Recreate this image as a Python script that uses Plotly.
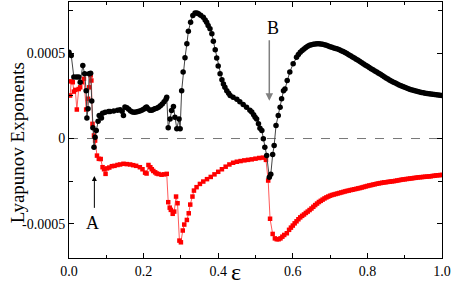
import plotly.graph_objects as go

# ---- data ----
# maximal exponent (black circles): irregular part up to 0.605, then dense smooth part
black_eps_left = [0.000, 0.006, 0.013, 0.020, 0.026, 0.030, 0.037, 0.042, 0.046, 0.048,
                  0.051, 0.054, 0.058, 0.061, 0.064, 0.067, 0.070, 0.073, 0.078, 0.081,
                  0.087, 0.090, 0.097, 0.106, 0.110, 0.120, 0.130, 0.137, 0.142, 0.146,
                  0.150, 0.155, 0.160, 0.165, 0.170, 0.175, 0.180, 0.185, 0.190, 0.195,
                  0.200, 0.205, 0.208, 0.212, 0.217, 0.222, 0.226, 0.230, 0.235, 0.240,
                  0.245, 0.250, 0.255, 0.260, 0.262, 0.266, 0.271, 0.275, 0.280, 0.284,
                  0.289, 0.295, 0.298, 0.302, 0.306, 0.311, 0.316, 0.320, 0.326, 0.332,
                  0.338, 0.343, 0.347, 0.353, 0.360, 0.365, 0.369, 0.373, 0.378, 0.383,
                  0.387, 0.392, 0.396, 0.400, 0.405, 0.410, 0.414, 0.418, 0.423, 0.428,
                  0.432, 0.440, 0.450, 0.458, 0.467, 0.476, 0.485, 0.490, 0.495, 0.499,
                  0.503, 0.508, 0.512, 0.517, 0.521, 0.525, 0.530, 0.537, 0.541, 0.546,
                  0.550, 0.555, 0.561, 0.566, 0.570, 0.575, 0.579, 0.585, 0.592, 0.601]
black_val_left = [5.06e-4, 4.87e-4, 3.60e-4, 3.60e-4, 3.60e-4, 3.30e-4, 4.28e-4, 3.79e-4, 2.80e-4, 1.21e-4,
                  1.74e-4, 3.80e-4, 3.83e-4, 2.20e-4, 0.63e-4, -0.51e-4, 0.08e-4, 0.47e-4, 1.01e-4, 1.35e-4,
                  1.21e-4, 1.48e-4, 1.54e-4, 1.58e-4, 1.58e-4, 1.62e-4, 1.66e-4, 1.68e-4, 1.60e-4, 1.35e-4,
                  1.85e-4, 1.80e-4, 1.72e-4, 1.62e-4, 1.56e-4, 1.54e-4, 1.55e-4, 1.58e-4, 1.62e-4, 1.66e-4,
                  1.72e-4, 1.80e-4, 1.85e-4, 1.75e-4, 1.66e-4, 1.66e-4, 1.70e-4, 1.74e-4, 1.78e-4, 1.84e-4,
                  1.92e-4, 2.02e-4, 2.15e-4, 2.30e-4, 2.42e-4, 0.63e-4, 1.15e-4, 1.64e-4, 1.88e-4, 1.25e-4,
                  0.57e-4, 1.15e-4, 0.57e-4, 2.80e-4, 3.90e-4, 4.73e-4, 5.55e-4, 6.29e-4, 6.82e-4, 7.21e-4,
                  7.35e-4, 7.36e-4, 7.31e-4, 7.22e-4, 7.11e-4, 6.95e-4, 6.82e-4, 6.62e-4, 6.43e-4, 6.14e-4,
                  5.70e-4, 5.20e-4, 4.72e-4, 4.25e-4, 3.80e-4, 3.45e-4, 3.20e-4, 3.00e-4, 2.80e-4, 2.65e-4,
                  2.52e-4, 2.42e-4, 2.30e-4, 2.15e-4, 2.00e-4, 1.84e-4, 1.66e-4, 1.56e-4, 1.40e-4, 1.25e-4,
                  1.15e-4, 0.86e-4, 0.60e-4, 0.47e-4, -0.02e-4, -0.51e-4, -1.00e-4, -2.27e-4, -2.10e-4, -0.94e-4,
                  -0.41e-4, 0.76e-4, 1.35e-4, 1.84e-4, 2.33e-4, 2.80e-4, 2.90e-4, 3.40e-4, 3.90e-4, 4.38e-4]
black_eps_right = [0.610, 0.615, 0.620, 0.625, 0.630, 0.635, 0.640, 0.645, 0.650, 0.655,
                   0.660, 0.665, 0.670, 0.675, 0.680, 0.685, 0.690, 0.695, 0.700, 0.705,
                   0.710, 0.715, 0.720, 0.725, 0.730, 0.735, 0.740, 0.745, 0.750, 0.755,
                   0.760, 0.765, 0.770, 0.775, 0.780, 0.785, 0.790, 0.795, 0.800, 0.805,
                   0.810, 0.815, 0.820, 0.825, 0.830, 0.835, 0.840, 0.845, 0.850, 0.855,
                   0.860, 0.865, 0.870, 0.875, 0.880, 0.885, 0.890, 0.895, 0.900, 0.905,
                   0.910, 0.915, 0.920, 0.925, 0.930, 0.935, 0.940, 0.945, 0.950, 0.955,
                   0.960, 0.965, 0.970, 0.975, 0.980, 0.985, 0.990, 0.995, 1.000]
black_val_right = [4.77e-4, 4.93e-4, 5.05e-4, 5.16e-4, 5.25e-4, 5.33e-4, 5.40e-4, 5.46e-4, 5.50e-4, 5.52e-4,
                   5.54e-4, 5.55e-4, 5.55e-4, 5.54e-4, 5.52e-4, 5.49e-4, 5.46e-4, 5.42e-4, 5.38e-4, 5.35e-4,
                   5.31e-4, 5.28e-4, 5.24e-4, 5.20e-4, 5.15e-4, 5.10e-4, 5.04e-4, 4.98e-4, 4.91e-4, 4.85e-4,
                   4.78e-4, 4.72e-4, 4.65e-4, 4.58e-4, 4.51e-4, 4.44e-4, 4.37e-4, 4.30e-4, 4.23e-4, 4.16e-4,
                   4.09e-4, 4.03e-4, 3.96e-4, 3.90e-4, 3.83e-4, 3.76e-4, 3.69e-4, 3.62e-4, 3.55e-4, 3.49e-4,
                   3.42e-4, 3.36e-4, 3.30e-4, 3.25e-4, 3.19e-4, 3.14e-4, 3.09e-4, 3.05e-4, 3.00e-4, 2.96e-4,
                   2.92e-4, 2.88e-4, 2.85e-4, 2.82e-4, 2.79e-4, 2.76e-4, 2.73e-4, 2.70e-4, 2.68e-4, 2.66e-4,
                   2.64e-4, 2.62e-4, 2.61e-4, 2.59e-4, 2.58e-4, 2.56e-4, 2.55e-4, 2.53e-4, 2.52e-4]

# second exponent (red squares)
red_eps_left = [0.003, 0.006, 0.010, 0.013, 0.017, 0.021, 0.026, 0.030, 0.035, 0.040,
                0.046, 0.051, 0.054, 0.058, 0.060, 0.063, 0.067, 0.070, 0.075, 0.080,
                0.085, 0.090, 0.094, 0.098, 0.102, 0.108, 0.115, 0.122, 0.130, 0.137,
                0.146, 0.155, 0.164, 0.172, 0.180, 0.190, 0.197, 0.204, 0.208, 0.213,
                0.218, 0.222, 0.226, 0.231, 0.235, 0.240, 0.248, 0.255, 0.262, 0.266,
                0.270, 0.273, 0.278, 0.282, 0.287, 0.291, 0.296, 0.300, 0.305, 0.309,
                0.316, 0.321, 0.325, 0.331, 0.335, 0.342, 0.351, 0.360, 0.370, 0.380,
                0.390, 0.400, 0.410, 0.420, 0.430, 0.440, 0.450, 0.460, 0.470, 0.480,
                0.490, 0.500, 0.510, 0.520, 0.528, 0.534, 0.539, 0.546, 0.552, 0.557,
                0.562, 0.567, 0.572, 0.577, 0.584]
red_val_left = [2.52e-4, 3.35e-4, 3.30e-4, 2.75e-4, 2.85e-4, 1.70e-4, 2.90e-4, 3.00e-4, 3.30e-4, 3.50e-4,
                1.70e-4, 2.33e-4, 3.00e-4, 3.70e-4, 3.40e-4, 0.86e-4, 0.18e-4, -0.12e-4, -1.00e-4, -1.19e-4,
                -1.20e-4, -1.68e-4, -1.80e-4, -2.07e-4, -1.75e-4, -1.70e-4, -1.62e-4, -1.60e-4, -1.55e-4, -1.52e-4,
                -1.48e-4, -1.50e-4, -1.52e-4, -1.56e-4, -1.60e-4, -1.68e-4, -1.80e-4, -2.00e-4, -2.05e-4, -1.55e-4,
                -1.68e-4, -1.80e-4, -1.90e-4, -1.98e-4, -2.05e-4, -2.08e-4, -2.12e-4, -2.10e-4, -2.07e-4, -3.73e-4,
                -4.05e-4, -4.18e-4, -4.41e-4, -4.28e-4, -3.40e-4, -3.79e-4, -5.98e-4, -6.08e-4, -5.39e-4, -5.04e-4,
                -4.77e-4, -4.38e-4, -3.87e-4, -3.40e-4, -3.05e-4, -2.85e-4, -2.66e-4, -2.52e-4, -2.38e-4, -2.25e-4,
                -2.10e-4, -1.95e-4, -1.80e-4, -1.65e-4, -1.52e-4, -1.42e-4, -1.36e-4, -1.32e-4, -1.28e-4, -1.25e-4,
                -1.22e-4, -1.18e-4, -1.14e-4, -1.12e-4, -1.25e-4, -2.46e-4, -4.70e-4, -5.59e-4, -5.85e-4, -5.90e-4,
                -5.90e-4, -5.85e-4, -5.75e-4, -5.65e-4, -5.55e-4]
red_eps_right = [0.590, 0.595, 0.600, 0.605, 0.610, 0.615, 0.620, 0.625, 0.630, 0.635,
                 0.640, 0.645, 0.650, 0.655, 0.660, 0.665, 0.670, 0.675, 0.680, 0.685,
                 0.690, 0.695, 0.700, 0.705, 0.710, 0.715, 0.720, 0.725, 0.730, 0.735,
                 0.740, 0.745, 0.750, 0.755, 0.760, 0.765, 0.770, 0.775, 0.780, 0.785,
                 0.790, 0.795, 0.800, 0.805, 0.810, 0.815, 0.820, 0.825, 0.830, 0.835,
                 0.840, 0.845, 0.850, 0.855, 0.860, 0.865, 0.870, 0.875, 0.880, 0.885,
                 0.890, 0.895, 0.900, 0.905, 0.910, 0.915, 0.920, 0.925, 0.930, 0.935,
                 0.940, 0.945, 0.950, 0.955, 0.960, 0.965, 0.970, 0.975, 0.980, 0.985,
                 0.990, 0.995, 1.000]
red_val_right = [-5.35e-4, -5.22e-4, -5.10e-4, -4.97e-4, -4.85e-4, -4.73e-4, -4.62e-4, -4.53e-4, -4.45e-4, -4.36e-4,
                 -4.28e-4, -4.19e-4, -4.10e-4, -4.00e-4, -3.90e-4, -3.81e-4, -3.72e-4, -3.65e-4, -3.58e-4, -3.51e-4,
                 -3.45e-4, -3.40e-4, -3.35e-4, -3.31e-4, -3.28e-4, -3.25e-4, -3.22e-4, -3.19e-4, -3.16e-4, -3.13e-4,
                 -3.10e-4, -3.07e-4, -3.05e-4, -3.02e-4, -3.00e-4, -2.97e-4, -2.95e-4, -2.92e-4, -2.90e-4, -2.87e-4,
                 -2.84e-4, -2.81e-4, -2.78e-4, -2.75e-4, -2.73e-4, -2.70e-4, -2.68e-4, -2.65e-4, -2.63e-4, -2.61e-4,
                 -2.59e-4, -2.57e-4, -2.56e-4, -2.54e-4, -2.53e-4, -2.51e-4, -2.50e-4, -2.48e-4, -2.46e-4, -2.44e-4,
                 -2.42e-4, -2.40e-4, -2.39e-4, -2.37e-4, -2.36e-4, -2.34e-4, -2.33e-4, -2.31e-4, -2.30e-4, -2.28e-4,
                 -2.27e-4, -2.26e-4, -2.25e-4, -2.24e-4, -2.23e-4, -2.22e-4, -2.21e-4, -2.19e-4, -2.18e-4, -2.16e-4,
                 -2.15e-4, -2.14e-4, -2.13e-4]

x_tick_vals = [0.0, 0.2, 0.4, 0.6, 0.8, 1.0]
x_tick_text = ["0.0", "0.2", "0.4", "0.6", "0.8", "1.0"]
y_tick_vals = [-0.0005, 0.0, 0.0005]
y_tick_text = ["-0.0005", "0", "0.0005"]

SERIF = "Liberation Serif, Times New Roman, serif"

black_eps = black_eps_left + black_eps_right
black_val = black_val_left + black_val_right
red_eps = red_eps_left + red_eps_right
red_val = red_val_left + red_val_right

fig = go.Figure()

fig.add_trace(go.Scatter(
    x=red_eps, y=red_val, mode="lines+markers",
    line=dict(color="#ff5a5a", width=1),
    marker=dict(symbol="square", size=4.5, color="#ff0000"),
    showlegend=False, hoverinfo="skip",
))
fig.add_trace(go.Scatter(
    x=black_eps, y=black_val, mode="lines+markers",
    line=dict(color="#444444", width=1),
    marker=dict(symbol="circle", size=5.5, color="#000000"),
    showlegend=False, hoverinfo="skip",
))

# dashed zero line
fig.add_shape(type="line", xref="paper", yref="y", x0=0, x1=1, y0=0, y1=0,
              line=dict(color="#777777", width=1, dash="dash"), layer="below")

# arrows A and B
fig.add_annotation(x=0.068, y=-2.2e-4, ax=0.068, ay=-4.15e-4, xref="x", yref="y",
                   axref="x", ayref="y", text="", showarrow=True,
                   arrowhead=2, arrowsize=1, arrowwidth=1, arrowcolor="#000000")
fig.add_annotation(x=0.064, y=-4.95e-4, text="A", showarrow=False,
                   font=dict(family=SERIF, size=18, color="#000000"))
fig.add_annotation(x=0.537, y=2.22e-4, ax=0.537, ay=5.85e-4, xref="x", yref="y",
                   axref="x", ayref="y", text="", showarrow=True,
                   arrowhead=2, arrowsize=1, arrowwidth=1.5, arrowcolor="#808080")
fig.add_annotation(x=0.546, y=6.5e-4, text="B", showarrow=False,
                   font=dict(family=SERIF, size=18, color="#000000"))

# axis titles as annotations
fig.add_annotation(xref="paper", yref="paper", x=-0.172, y=0.45, text="Lyapunov Exponents",
                   textangle=-90, showarrow=False,
                   font=dict(family=SERIF, size=19, color="#000000"))
fig.add_annotation(xref="paper", yref="paper", x=0.448, y=-0.055, yanchor="middle",
                   text="ε", showarrow=False,
                   font=dict(family=SERIF, size=24, color="#000000"))

fig.update_xaxes(
    range=[0, 1], tickvals=x_tick_vals, ticktext=x_tick_text,
    ticks="inside", ticklen=5, tickcolor="#000000", mirror="ticks",
    showline=True, linecolor="#000000", linewidth=1, showgrid=False, zeroline=False,
    minor=dict(dtick=0.1, ticks="inside", ticklen=3, tickcolor="#000000"),
    tickfont=dict(family=SERIF, size=14, color="#000000"),
)
fig.update_yaxes(
    range=[-0.0007, 0.0008], tickvals=y_tick_vals, ticktext=y_tick_text,
    ticks="inside", ticklen=5, tickcolor="#000000", mirror="ticks",
    showline=True, linecolor="#000000", linewidth=1, showgrid=False, zeroline=False,
    minor=dict(tickvals=[-0.00075, -0.00025, 0.00025, 0.00075], ticks="inside",
               ticklen=4, tickcolor="#000000"),
    tickfont=dict(family=SERIF, size=14, color="#000000"),
)

fig.update_layout(
    width=452, height=290,
    margin=dict(l=69, r=10, t=2, b=32),
    paper_bgcolor="white", plot_bgcolor="white",
    hovermode=False,
)

fig.write_html("out.html", config={"displayModeBar": False, "staticPlot": True},
               post_script="document.body.style.margin='0';")
